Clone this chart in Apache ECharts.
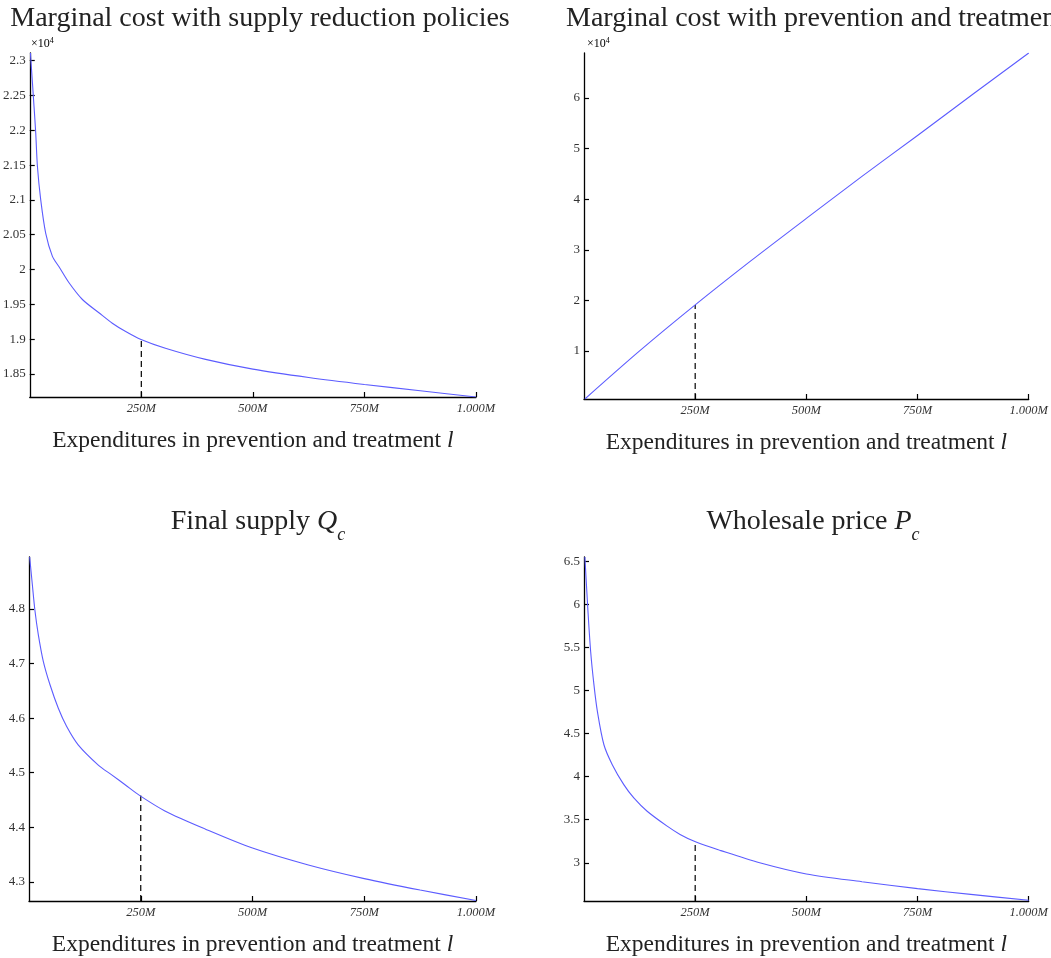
<!DOCTYPE html>
<html>
<head>
<meta charset="utf-8">
<style>
  html, body { margin: 0; padding: 0; background: #fff; }
  #chart { width: 1051px; height: 958px; }
</style>
<script src="https://cdn.jsdelivr.net/npm/echarts@6/dist/echarts.min.js"></script>
</head>
<body>
<div id="chart"></div>
<script>
// 数据
var xTicks = [250, 500, 750, 1000];
var refL = 250;

// 左上：供给削减政策的边际成本 (×10^4)
var lSupply = [1.5, 9.6, 13.4, 17.2, 24.6, 35.8, 50.8, 65.6, 88, 118, 155, 185, 215, 248, 304, 394, 500, 625, 750, 875, 1000];
var mcSupply = [2.311, 2.234, 2.196, 2.148, 2.100, 2.052, 2.019, 2.004, 1.981, 1.957, 1.938, 1.923, 1.911, 1.900, 1.887, 1.871, 1.857, 1.845, 1.835, 1.826, 1.817];
var mcSupplyTicks = [1.85, 1.9, 1.95, 2, 2.05, 2.1, 2.15, 2.2, 2.25, 2.3];
var mcSupplyRef = 1.900;

// 右上：预防与治疗的边际成本 (×10^4)
var lPrev = [2, 125, 250, 375, 500, 625, 750, 875, 1000];
var mcPrev = [0.05, 1.0, 1.91, 2.78, 3.62, 4.45, 5.26, 6.08, 6.89];
var mcPrevTicks = [1, 2, 3, 4, 5, 6];
var mcPrevRef = 1.91;

// 左下：最终供给 Qc
var lQ = [1.5, 7.4, 13.4, 20.8, 32, 47, 65.6, 84, 110, 155, 185, 215, 248, 304, 394, 500, 625, 750, 875, 1000];
var supplyQ = [4.895, 4.845, 4.796, 4.753, 4.704, 4.661, 4.618, 4.585, 4.551, 4.514, 4.496, 4.478, 4.458, 4.430, 4.397, 4.362, 4.331, 4.306, 4.285, 4.266];
var supplyQTicks = [4.3, 4.4, 4.5, 4.6, 4.7, 4.8];
var supplyQRef = 4.458;

// 右下：批发价格 Pc
var lP = [2, 9, 15, 22.4, 30, 44.8, 63.6, 89.5, 112, 142, 187, 216, 252, 306, 395, 500, 625, 750, 875, 1000];
var priceP = [6.55, 5.913, 5.45, 5.065, 4.76, 4.37, 4.139, 3.907, 3.753, 3.598, 3.425, 3.329, 3.24, 3.144, 3.0, 2.87, 2.78, 2.70, 2.63, 2.565];
var pricePTicks = [3, 3.5, 4, 4.5, 5, 5.5, 6, 6.5];
var pricePRef = 3.24;

function pairs(xs, ys) {
    return xs.map(function (x, i) { return [x, ys[i]]; });
}

var serif = 'Liberation Serif';
var blue = '#5c5cff';

var panels = [
    {grid: {left: 29, top: 53, width: 447, height: 344}, min: 1.817, max: 2.311, ticks: mcSupplyTicks, l: lSupply, v: mcSupply, ref: mcSupplyRef},
    {grid: {left: 584, top: 53, width: 446, height: 346}, min: 0.05, max: 6.89, ticks: mcPrevTicks, l: lPrev, v: mcPrev, ref: mcPrevRef},
    {grid: {left: 29, top: 557, width: 447, height: 344}, min: 4.265, max: 4.895, ticks: supplyQTicks, l: lQ, v: supplyQ, ref: supplyQRef},
    {grid: {left: 584, top: 557, width: 446, height: 345}, min: 2.556, max: 6.55, ticks: pricePTicks, l: lP, v: priceP, ref: pricePRef}
];

var xName = '{a|Expenditures in prevention and treatment }{i|l}';
var nameRich = {
    a: {fontFamily: serif, fontSize: 23.5, color: '#222'},
    i: {fontFamily: serif, fontSize: 23.5, fontStyle: 'italic', color: '#222'}
};

var grids = [], xAxes = [], yAxes = [], series = [];
panels.forEach(function (p, k) {
    grids.push(Object.assign({containLabel: false}, p.grid));
    xAxes.push({
        type: 'value',
        gridIndex: k,
        min: 0,
        max: 1000,
        name: xName,
        nameLocation: 'middle',
        nameGap: 32,
        nameTextStyle: {rich: nameRich},
        splitLine: {show: false},
        axisLine: {lineStyle: {color: '#000', width: 1.3}},
        axisTick: {inside: true, length: 5, customValues: xTicks, lineStyle: {color: '#000', width: 1.2}},
        axisLabel: {
            customValues: xTicks,
            margin: 5,
            formatter: function (v) {
                return '{n|' + (v === 1000 ? '1.000' : v) + '}{m|M}';
            },
            rich: {
                n: {fontFamily: serif, fontSize: 12.5, fontStyle: 'italic', color: '#333'},
                m: {fontFamily: serif, fontSize: 12.5, fontStyle: 'italic', color: '#333'}
            }
        }
    });
    yAxes.push({
        type: 'value',
        gridIndex: k,
        min: p.min,
        max: p.max,
        splitLine: {show: false},
        axisLine: {show: true, lineStyle: {color: '#000', width: 1.3}},
        axisTick: {inside: true, length: 5, customValues: p.ticks, lineStyle: {color: '#000', width: 1.2}},
        axisLabel: {
            customValues: p.ticks,
            margin: 4,
            fontFamily: serif,
            fontSize: 13,
            color: '#333',
            formatter: function (v) { return String(+v.toFixed(2)); }
        }
    });
    series.push({
        type: 'line',
        xAxisIndex: k,
        yAxisIndex: k,
        data: pairs(p.l, p.v),
        showSymbol: false,
        smooth: 0.3,
        lineStyle: {color: blue, width: 1.1},
        z: 3
    });
    series.push({
        type: 'line',
        xAxisIndex: k,
        yAxisIndex: k,
        data: [[refL, p.min], [refL, p.ref]],
        showSymbol: false,
        lineStyle: {color: '#000', width: 1.2, type: [6, 4]},
        z: 2
    });
});

var titleStyle = {
    fontFamily: serif,
    fontSize: 28,
    fontWeight: 'normal',
    color: '#222',
    rich: {
        t: {fontFamily: serif, fontSize: 28, color: '#222'},
        i: {fontFamily: serif, fontSize: 28, fontStyle: 'italic', color: '#222'},
        s: {fontFamily: serif, fontSize: 18, fontStyle: 'italic', color: '#222', verticalAlign: 'bottom', padding: [0, 0, -8, 0]}
    }
};

var exp = {
    type: 'text',
    style: {
        text: '{a|×10}{b|4}',
        rich: {
            a: {fontFamily: serif, fontSize: 12, color: '#333'},
            b: {fontFamily: serif, fontSize: 8, color: '#333', verticalAlign: 'top', padding: [0, 0, 6, 0]}
        }
    }
};

var myChart = echarts.init(document.getElementById('chart'));
myChart.setOption({
    animation: false,
    backgroundColor: '#fff',
    title: [
        {text: 'Marginal cost with supply reduction policies', left: 255, top: 0, textAlign: 'center', textStyle: titleStyle},
        {text: 'Marginal cost with prevention and treatment', left: 810, top: 0, textAlign: 'center', textStyle: titleStyle},
        {text: '{t|Final supply }{i|Q}{s|c}', left: 253, top: 503, textAlign: 'center', textStyle: titleStyle},
        {text: '{t|Wholesale price }{i|P}{s|c}', left: 808, top: 503, textAlign: 'center', textStyle: titleStyle}
    ],
    graphic: [
        Object.assign({left: 31, top: 37}, exp),
        Object.assign({left: 587, top: 37}, exp)
    ],
    grid: grids,
    xAxis: xAxes,
    yAxis: yAxes,
    series: series
});
</script>
</body>
</html>
